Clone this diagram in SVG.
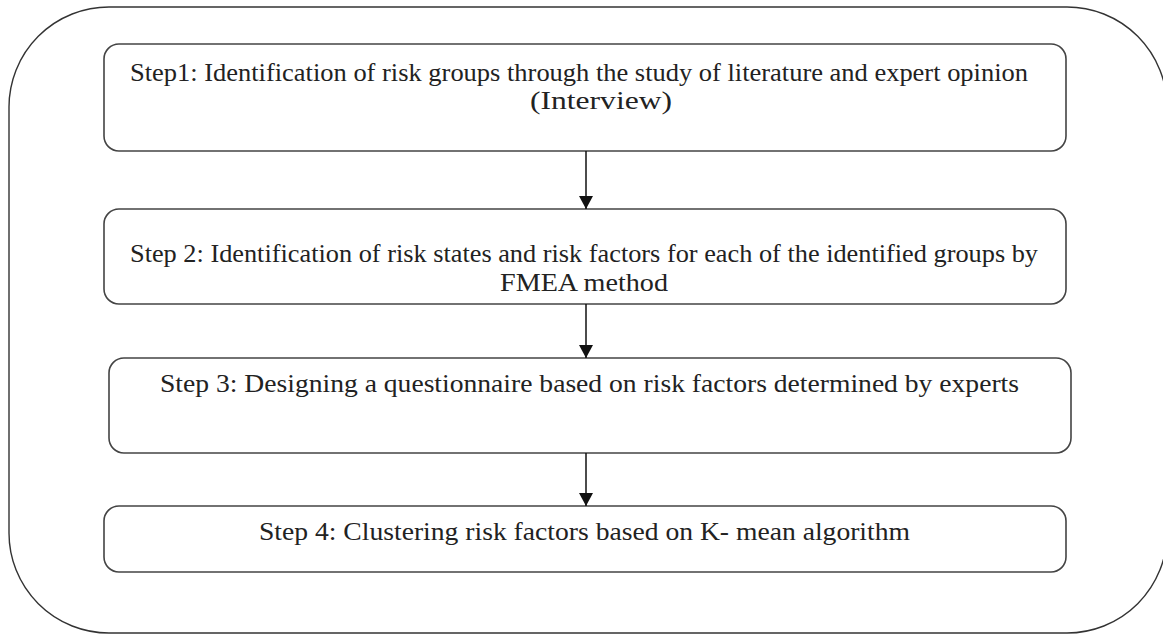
<svg xmlns="http://www.w3.org/2000/svg" width="1163" height="634" viewBox="0 0 1163 634">
<defs>
<style>
.box{fill:#fff;stroke:#444;stroke-width:1.6}
.outer{fill:#fff;stroke:#333;stroke-width:1.4}
.t{font-family:'Liberation Serif','Times New Roman',Times,serif;font-size:25px;fill:#222}
.c{stroke:#111;stroke-width:1.5;fill:none}
</style>
<marker id="ah" markerWidth="13" markerHeight="14" refX="13" refY="7" orient="auto" markerUnits="userSpaceOnUse" viewBox="0 0 13 14">
<path d="M0,0 L13,7 L0,14 Z" fill="#111"/>
</marker>
</defs>
<rect width="1163" height="634" fill="#fff"/>
<rect class="outer" x="9" y="7" width="1158" height="626" rx="100" ry="100"/>
<g id="step1">
<rect class="box" x="104" y="44" width="962" height="107" rx="15"/>
<text class="t" font-family="Liberation Serif" x="130" y="81" textLength="898" lengthAdjust="spacingAndGlyphs">Step1: Identification of risk groups through the study of literature and expert opinion</text>
<text class="t" font-family="Liberation Serif" x="530" y="109" textLength="142" lengthAdjust="spacingAndGlyphs">(Interview)</text>
</g>
<g id="step2">
<rect class="box" x="104" y="209" width="962" height="95" rx="15"/>
<text class="t" font-family="Liberation Serif" x="130" y="262" textLength="908" lengthAdjust="spacingAndGlyphs">Step 2: Identification of risk states and risk factors for each of the identified groups by</text>
<text class="t" font-family="Liberation Serif" x="500" y="291" textLength="168" lengthAdjust="spacingAndGlyphs">FMEA method</text>
</g>
<g id="step3">
<rect class="box" x="109" y="358" width="962" height="95" rx="15"/>
<text class="t" font-family="Liberation Serif" x="160" y="392" textLength="859" lengthAdjust="spacingAndGlyphs">Step 3: Designing a questionnaire based on risk factors determined by experts</text>
</g>
<g id="step4">
<rect class="box" x="104" y="506" width="962" height="66" rx="15"/>
<text class="t" font-family="Liberation Serif" x="259" y="540" textLength="651" lengthAdjust="spacingAndGlyphs">Step 4: Clustering risk factors based on K- mean algorithm</text>
</g>
<g id="connectors">
<line class="c" x1="586" y1="151" x2="586" y2="209" marker-end="url(#ah)"/>
<line class="c" x1="586" y1="304" x2="586" y2="358" marker-end="url(#ah)"/>
<line class="c" x1="586" y1="453" x2="586" y2="506" marker-end="url(#ah)"/>
</g>
</svg>
